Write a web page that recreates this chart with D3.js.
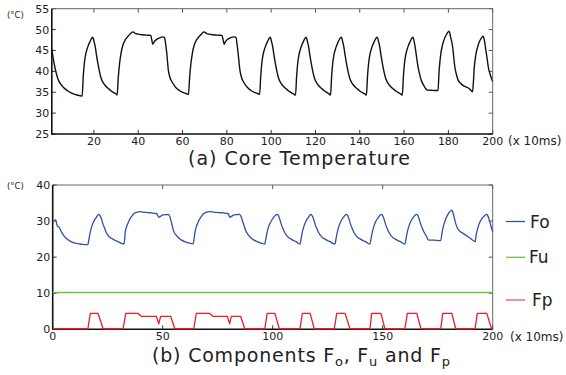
<!DOCTYPE html>
<html><head><meta charset="utf-8">
<script src="https://cdn.jsdelivr.net/npm/d3@7"></script>
<style>
body{margin:0;background:#fff;}
text{font-family:"DejaVu Sans",Verdana,sans-serif;fill:#222;}
</style></head><body>
<svg id="c" width="566" height="375"></svg>
<script>
// ---- data (time in units of 10 ms) ----
const coreTemp = [
[1,45.4],[1.6,43.2],[2.2,41.5],[3,39.6],[3.7,38.3],[4.8,37.1],[6,36.3],[7,35.8],[8.2,35.3],[9.5,34.9],[10.5,34.65],[12,34.4],[13.5,34.2],[14.7,34.1],
[15.2,38.8],[15.7,42.0],[16.2,43.8],[17.2,45.8],[18.2,47.1],[19.0,47.9],[19.5,48.2],[20.0,47.3],[20.6,45.9],[21.2,43.8],[21.8,41.9],[22.5,40.0],[23.3,38.3],[24.4,37.1],[25.6,36.3],[26.7,35.8],[27.8,35.3],[29.0,34.9],[30.0,34.6],[30.5,34.3],
[31.0,38.5],[31.6,41.9],[32.3,44.5],[33.1,46.3],[34.2,47.6],[35.4,48.4],[36.5,49.0],[37.6,49.45],[38.7,49.1],[39.9,48.9],[42,48.75],[44.4,48.65],[45.7,48.6],[46.1,47.6],[46.6,46.5],[47.3,47.1],[48.2,47.6],[49.6,48.0],[51.2,48.25],[51.9,48.0],[52.4,46.5],[52.9,44.3],[53.6,40.3],[54.3,38.6],[55.2,37.5],[56.3,36.6],[57.4,35.9],[58.9,35.3],[60.4,34.9],[61.6,34.7],[62.7,34.5],
[63.2,38.5],[63.8,41.9],[64.5,44.5],[65.3,46.3],[66.4,47.6],[67.6,48.4],[68.7,49.0],[69.6,49.45],[70.8,49.1],[71.9,48.9],[74,48.75],[76.5,48.65],[77.8,48.6],[78.3,47.6],[78.8,46.5],[79.4,47.1],[80.2,47.6],[81.5,48.0],[83.5,48.25],[84.2,48.0],[84.6,46.5],[85.1,44.3],[85.9,40.3],[86.6,38.6],[87.5,37.5],[88.6,36.6],[89.8,35.9],[91.2,35.3],[92.8,34.9],[93.9,34.7],[94.8,34.5],
[95.3,38.8],[95.8,42.0],[96.3,43.8],[97.3,45.8],[98.3,47.1],[99.1,47.9],[99.6,48.2],[100.1,47.3],[100.7,45.9],[101.3,43.8],[101.9,41.9],[102.6,40.0],[103.4,38.3],[104.5,37.1],[105.7,36.3],[106.8,35.8],[107.9,35.3],[109.1,34.9],[110.1,34.6],[111,34.3],
[111.5,38.8],[112,42.0],[112.5,43.8],[113.5,45.8],[114.5,47.1],[115.3,47.9],[115.8,48.2],[116.3,47.3],[116.9,45.9],[117.5,43.8],[118.1,41.9],[118.8,40.0],[119.6,38.3],[120.7,37.1],[121.9,36.3],[123,35.8],[124.1,35.3],[125.3,34.9],[126.2,34.6],[126.8,34.3],
[127.3,38.8],[127.8,42.0],[128.3,43.8],[129.3,45.8],[130.3,47.1],[131.1,47.9],[131.7,48.2],[132.2,47.3],[132.8,45.9],[133.4,43.8],[134,41.9],[134.7,40.0],[135.5,38.3],[136.6,37.1],[137.8,36.3],[138.9,35.8],[140,35.3],[141.2,34.9],[142.3,34.6],[143,34.3],
[143.5,38.8],[144,42.0],[144.5,43.8],[145.5,45.8],[146.5,47.1],[147.3,47.9],[147.9,48.2],[148.4,47.3],[149,45.9],[149.6,43.8],[150.2,41.9],[150.9,40.0],[151.7,38.3],[152.8,37.1],[154,36.3],[155.1,35.8],[156.2,35.3],[157.4,34.9],[158.5,34.6],[159.2,34.3],
[159.7,38.8],[160.2,42.0],[160.7,43.8],[161.7,45.8],[162.7,47.1],[163.5,47.9],[164,48.2],[164.5,47.3],[165.2,45.1],[165.7,43.2],[166.3,41.1],[166.9,39.6],[167.5,38.3],[168.2,37.3],[169,36.5],[169.7,35.9],[170.5,35.5],[173,35.45],[175.3,35.4],
[175.8,40.0],[176.6,44.3],[177.3,46.2],[178,47.5],[179,48.7],[180.3,49.6],[181.1,48.0],[181.9,45.9],[182.4,43.5],[182.9,41.1],[183.6,39.3],[184.4,37.9],[185.4,37.2],[186.4,36.7],[187.9,36.3],[189.4,35.9],[190.9,35.1],[191.3,37.5],[191.6,40.3],[192.4,44.0],[193.2,45.8],[193.9,47.0],[194.8,47.9],[195.7,48.4],[196.3,47.3],[196.9,45.1],[197.5,43.0],[198,41.1],[199,39.0],[200,37.5]
];
const componentFo = [
[0.9,30.5],[1.5,30.0],[2.1,28.6],[2.9,28.3],[3.5,27.6],[4.3,26.6],[5.4,25.7],[6.5,25.0],[7.7,24.5],[9,24.1],[10.7,23.8],[12.5,23.65],[14.5,23.5],[16,23.45],
[16.4,24.8],[17.1,27.0],[17.7,28.4],[18.3,29.4],[19,30.3],[19.8,31.0],[20.4,31.6],[21,31.85],[21.5,31.5],[22.1,30.7],[22.8,29.3],[23.6,28.0],[24.3,26.9],[25.1,26.1],[26.2,25.4],[27.4,25.0],[28.5,24.6],[29.7,24.3],[31,23.9],[32.3,23.6],
[32.7,24.8],[33,27.0],[33.6,28.5],[34.2,29.4],[35,30.5],[35.8,31.2],[36.6,31.9],[37.6,32.3],[38.5,32.5],[39.6,32.6],[41,32.5],[43.3,32.35],[45,32.25],[47.1,32.1],[47.7,31.6],[48.3,31.0],[49,31.3],[50.1,31.7],[51.5,31.8],[52.7,31.85],[53.3,31.1],[53.9,29.8],[54.5,28.3],[55.1,27.0],[56,26.2],[56.9,25.5],[58.4,24.8],[60,24.3],[62,23.9],[63.8,23.7],
[64.2,24.8],[64.7,27.0],[65.3,28.5],[65.9,29.4],[66.7,30.5],[67.5,31.2],[68.3,31.9],[69.3,32.3],[70.2,32.5],[71.3,32.6],[73,32.5],[75.5,32.35],[77.5,32.25],[79.7,32.1],[80.1,31.6],[80.5,31.0],[81.3,31.3],[82.5,31.7],[84,31.8],[85,31.85],[85.7,31.1],[86.4,29.8],[87.2,28.3],[88,27.0],[88.9,26.2],[89.8,25.5],[91.3,24.8],[92.9,24.3],[94.8,23.9],[96.4,23.6],
[96.8,24.8],[97.5,27.0],[98.1,28.4],[98.8,29.4],[99.6,30.3],[100.4,31.0],[101.3,31.6],[102.1,31.85],[102.6,31.5],[103.1,30.7],[103.8,29.3],[104.6,28.0],[105.4,26.9],[106.2,26.1],[107.3,25.4],[108.4,25.0],[109.5,24.6],[110.6,24.3],[111.6,23.8],[112.4,23.6],
[112.8,24.8],[113.5,27.0],[114.1,28.4],[114.7,29.4],[115.4,30.3],[116.2,31.0],[116.8,31.6],[117.4,31.85],[117.9,31.5],[118.5,30.7],[119.2,29.3],[120,28.0],[120.8,26.9],[121.6,26.1],[122.7,25.4],[123.8,25.0],[124.9,24.6],[126.1,24.3],[127.3,23.8],[128.3,23.6],
[128.7,24.8],[129.4,27.0],[130,28.4],[130.6,29.4],[131.3,30.3],[132.1,31.0],[132.9,31.6],[133.6,31.85],[134.1,31.5],[134.6,30.7],[135.3,29.3],[136.1,28.0],[136.9,26.9],[137.7,26.1],[138.8,25.4],[139.9,25.0],[141,24.6],[142.2,24.3],[143.3,23.8],[144.2,23.6],
[144.6,24.8],[145.3,27.0],[145.9,28.4],[146.5,29.4],[147.2,30.3],[148,31.0],[148.8,31.6],[149.5,31.85],[150,31.5],[150.5,30.7],[151.2,29.3],[152,28.0],[152.8,26.9],[153.6,26.1],[154.7,25.4],[155.8,25.0],[156.9,24.6],[158.1,24.3],[159.2,23.8],[160.1,23.6],
[160.5,24.8],[161.2,27.0],[161.8,28.4],[162.4,29.4],[163.1,30.3],[163.9,31.0],[164.7,31.6],[165.5,31.85],[166,31.5],[166.5,30.7],[167.2,29.3],[168,28.0],[168.8,26.9],[169.7,26.0],[170.7,24.8],[173.5,24.7],[176.4,24.6],
[176.8,26.0],[177.3,27.8],[178,29.4],[178.8,30.8],[179.6,31.8],[180.5,32.6],[181.4,33.05],[181.9,32.4],[182.5,31.0],[183.2,29.3],[184,28.0],[185,27.2],[186.6,26.6],[188.5,25.8],[190.3,25.0],[192,24.3],[192.4,25.8],[192.9,27.3],[193.6,28.8],[194.4,30.0],[195.3,30.9],[196.3,31.5],[197.3,31.85],[197.9,31.3],[198.5,30.2],[199.2,28.6],[200,27.0]
];
const componentFu = [[0,10.2],[200,10.2]];
const componentFp = [
[0,0.15],[16,0.15],[17.1,4.4],[20.6,4.4],[22.9,0.15],[32,0.15],[33.2,4.4],[38.8,4.4],[40.3,3.6],[47.1,3.6],[48.2,1.5],[49.1,3.6],[53.6,3.6],[55.5,0.15],
[64.1,0.15],[65.3,4.4],[71.3,4.4],[72.8,3.6],[79.4,3.6],[80.4,1.5],[81.2,3.6],[85.4,3.6],[87.3,0.15],[96.4,0.15],[97.5,4.4],[101,4.4],[103,0.15],
[112.4,0.15],[113.5,4.4],[117,4.4],[118.9,0.15],[128,0.15],[129.1,4.4],[132.9,4.4],[135.1,0.15],[144.2,0.15],[145,4.4],[149.2,4.4],[151,0.15],
[160.1,0.15],[161.2,4.4],[165.5,4.4],[167.4,0.15],[176.4,0.15],[177.3,4.4],[181.4,4.4],[183.2,0.15],[192,0.15],[193,4.4],[197.3,4.4],[199.5,0.15],[200,0.15]
];
const tempTicksX = [20,40,60,80,100,120,140,160,180,200];
const tempTicksY = [25,30,35,40,45,50,55];
const compTicksX = [0,50,100,150,200];
const compTicksY = [0,10,20,30,40];
const legendNames = ["Fo","Fu","Fp"];

// ---- drawing ----
const svg = d3.select("#c");
const FONT = 11;

function panel(xs, ys, ticksX, ticksY) {
  const g = svg.append("g");
  const [x0,x1] = xs.range(), [y0,y1] = ys.range();
  g.selectAll(null).data(ticksX).join("line")
    .attr("x1",d=>xs(d)).attr("x2",d=>xs(d)).attr("y1",y0).attr("y2",y0-4)
    .attr("stroke","#333").attr("stroke-width",1);
  g.selectAll(null).data(ticksX).join("line")
    .attr("x1",d=>xs(d)).attr("x2",d=>xs(d)).attr("y1",y1).attr("y2",y1+4)
    .attr("stroke","#555").attr("stroke-width",1);
  g.selectAll(null).data(ticksY).join("line")
    .attr("x1",x0).attr("x2",x0+4).attr("y1",d=>ys(d)).attr("y2",d=>ys(d))
    .attr("stroke","#333").attr("stroke-width",1);
  g.selectAll(null).data(ticksY).join("line")
    .attr("x1",x1).attr("x2",x1-4).attr("y1",d=>ys(d)).attr("y2",d=>ys(d))
    .attr("stroke","#555").attr("stroke-width",1);
  g.selectAll(null).data(ticksX).join("text")
    .attr("x",d=>xs(d)).attr("y",y0+11).attr("text-anchor","middle")
    .attr("font-size",FONT).text(d=>d);
  g.selectAll(null).data(ticksY).join("text")
    .attr("x",x0-2.5).attr("y",d=>ys(d)).attr("dy","0.36em").attr("text-anchor","end")
    .attr("font-size",FONT).text(d=>d);
  return g;
}
function frame(xs, ys) {
  const [x0,x1] = xs.range(), [y0,y1] = ys.range();
  svg.append("line").attr("x1",x0).attr("x2",x1).attr("y1",y1).attr("y2",y1).attr("stroke","#666").attr("stroke-width",1);
  svg.append("line").attr("x1",x1).attr("x2",x1).attr("y1",y0).attr("y2",y1).attr("stroke","#666").attr("stroke-width",1);
  svg.append("line").attr("x1",x0).attr("x2",x1).attr("y1",y0).attr("y2",y0).attr("stroke","#111").attr("stroke-width",1.6);
  svg.append("line").attr("x1",x0).attr("x2",x0).attr("y1",y0+0.8).attr("y2",y1).attr("stroke","#111").attr("stroke-width",1.6);
}

// top panel
const xa = d3.scaleLinear().domain([1,200]).range([51.8,492.7]);
const ya = d3.scaleLinear().domain([25,55]).range([134,8.7]);
panel(xa, ya, tempTicksX, tempTicksY);
svg.append("path").datum(coreTemp)
  .attr("d", d3.line().x(d=>xa(d[0])).y(d=>ya(d[1])).curve(d3.curveMonotoneX))
  .attr("fill","none").attr("stroke","#111").attr("stroke-width",1.4).attr("stroke-linejoin","round");
frame(xa, ya);

// bottom panel
const xb = d3.scaleLinear().domain([0,200]).range([52.7,492.7]);
const yb = d3.scaleLinear().domain([0,40]).range([329.3,185]);
panel(xb, yb, compTicksX, compTicksY);
frame(xb, yb);
const lineB = d3.line().x(d=>xb(d[0])).y(d=>yb(d[1]));
svg.append("path").datum(componentFu).attr("d", lineB)
  .attr("fill","none").attr("stroke","#6cc644").attr("stroke-width",1.3);
svg.append("path").datum(componentFo).attr("d", lineB.curve(d3.curveMonotoneX))
  .attr("fill","none").attr("stroke","#2f4fa8").attr("stroke-width",1.3).attr("stroke-linejoin","round");
svg.append("path").datum(componentFp).attr("d", d3.line().x(d=>xb(d[0])).y(d=>yb(d[1])))
  .attr("fill","none").attr("stroke","#ee1c24").attr("stroke-width",1.3).attr("stroke-linejoin","round");

// units
svg.append("text").attr("x",7).attr("y",18).attr("font-size",8.5).text("(°C)");
svg.append("text").attr("x",7).attr("y",189).attr("font-size",8.5).text("(°C)");
svg.append("text").attr("x",508).attr("y",ya.range()[0]+11).attr("font-size",12).text("(x 10ms)");
svg.append("text").attr("x",510).attr("y",yb.range()[0]+11.4).attr("font-size",12).text("(x 10ms)");

// titles
svg.append("text").attr("x",188).attr("y",165).attr("font-size",19).attr("fill","#2a2a2a")
  .attr("textLength",222).attr("lengthAdjust","spacing").text("(a) Core Temperature");
const tb = svg.append("text").attr("x",152).attr("y",362).attr("font-size",19)
  .attr("letter-spacing",0.8).attr("fill","#2a2a2a");
tb.append("tspan").text("(b) Components F");
tb.append("tspan").attr("font-size",13).attr("dy",4).text("o");
tb.append("tspan").attr("dy",-4).text(", F");
tb.append("tspan").attr("font-size",13).attr("dy",4).text("u");
tb.append("tspan").attr("dy",-4).text(" and F");
tb.append("tspan").attr("font-size",13).attr("dy",4).text("p");

// legend
const legColors = ["#2f4fa8","#6cc644","#f05a5a"];
const legY = [221.5, 257.3, 300];
const legTextX = [530, 529, 532];
legendNames.forEach((n,i)=>{
  svg.append("line").attr("x1",506).attr("x2",525).attr("y1",legY[i]).attr("y2",legY[i])
    .attr("stroke",legColors[i]).attr("stroke-width",1.3);
  svg.append("text").attr("x",legTextX[i]).attr("y",legY[i]).attr("dy","0.36em")
    .attr("font-size",17).text(n);
});
</script>
</body></html>
